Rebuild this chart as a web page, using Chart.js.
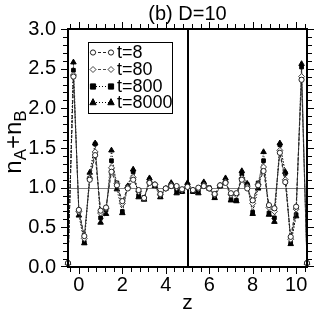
<!DOCTYPE html>
<html>
<head>
    <title>n_A+n_B profile, D=10</title>
    <script src="https://cdn.jsdelivr.net/npm/chart.js"></script>
    <style>
        body { margin: 0; background: #ffffff; }
    </style>
</head>
<body>
    <canvas id="profileChart" width="316" height="312"></canvas>
    <script>
    // positions along z
    const zValues = [
        -0.5, -0.25, 0, 0.25, 0.5, 0.75, 1, 1.25, 1.5, 1.75,
        2, 2.25, 2.5, 2.75, 3, 3.25, 3.5, 3.75, 4, 4.25,
        4.5, 4.75, 5, 5.25, 5.5, 5.75, 6, 6.25, 6.5, 6.75,
        7, 7.25, 7.5, 7.75, 8, 8.25, 8.5, 8.75, 9, 9.25,
        9.5, 9.75, 10, 10.25, 10.5
    ];
    const seriesLabels = ['t=8', 't=80', 't=800', 't=8000'];

    // n_A + n_B for each time
    const densT8 = [
        0.05, 2.40, 0.72, 0.39, 1.10, 1.41, 0.71, 0.75, 1.20, 1.03,
        0.83, 0.99, 1.10, 0.97, 0.87, 1.06, 1.04, 0.92, 0.99, 1.02,
        1.02, 0.98, 1.01, 0.97, 1.00, 1.02, 0.99, 0.92, 1.03, 1.06,
        0.93, 0.93, 1.10, 0.99, 0.84, 1.03, 1.21, 0.78, 0.74, 1.44,
        1.07, 0.38, 0.76, 2.36, 0.05
    ];
    const densT80 = [
        0.05, 2.42, 0.70, 0.36, 1.12, 1.45, 0.68, 0.74, 1.25, 1.05,
        0.80, 1.00, 1.13, 0.95, 0.87, 1.07, 1.04, 0.91, 0.99, 1.03,
        1.00, 0.97, 1.01, 0.97, 0.99, 1.03, 0.99, 0.91, 1.03, 1.07,
        0.91, 0.91, 1.12, 1.01, 0.80, 1.04, 1.26, 0.75, 0.70, 1.47,
        1.10, 0.35, 0.73, 2.40, 0.05
    ];
    const densT800 = [
        0.05, 2.48, 0.70, 0.31, 1.12, 1.55, 0.62, 0.72, 1.34, 1.06,
        0.70, 1.01, 1.20, 0.90, 0.86, 1.10, 1.03, 0.89, 0.99, 1.04,
        0.96, 0.95, 1.03, 0.95, 0.96, 1.05, 1.00, 0.88, 1.02, 1.09,
        0.85, 0.84, 1.17, 1.04, 0.69, 1.06, 1.34, 0.68, 0.62, 1.54,
        1.18, 0.30, 0.66, 2.52, 0.05
    ];
    const densT8000 = [
        0.05, 2.58, 0.65, 0.30, 1.19, 1.56, 0.56, 0.67, 1.47, 0.98,
        0.68, 1.02, 1.23, 0.88, 0.85, 1.12, 1.02, 0.88, 0.99, 1.06,
        0.93, 0.95, 1.06, 0.95, 0.93, 1.07, 0.99, 0.87, 1.02, 1.12,
        0.84, 0.83, 1.21, 1.05, 0.67, 0.99, 1.45, 0.66, 0.57, 1.56,
        1.20, 0.29, 0.64, 2.56, 0.05
    ];

    const xTickValues = [0, 2, 4, 6, 8, 10];
    const yTickValues = [0, 0.5, 1.0, 1.5, 2.0, 2.5, 3.0];
    const titleText = '(b) D=10';

    const FONT = "'Liberation Sans', Arial, sans-serif";

    function toPoints(arr) {
        return arr.map((v, i) => ({ x: zValues[i], y: v }));
    }

    const styles = [
        { color: '#222222', dash: [3, 2], point: 'circle', radius: 2.6, fill: '#ffffff' },
        { color: '#444444', dash: [3, 2], point: 'rectRot', radius: 3.0, fill: '#ffffff' },
        { color: '#000000', dash: [1, 2], point: 'rect', radius: 2.6, fill: '#000000' },
        { color: '#000000', dash: [1, 2], point: 'triangle', radius: 3.2, fill: '#000000' }
    ];
    const allSeries = [densT8, densT80, densT800, densT8000];

    const datasets = allSeries.map((arr, i) => ({
        label: seriesLabels[i],
        data: toPoints(arr),
        showLine: true,
        borderColor: styles[i].color,
        borderWidth: 1,
        borderDash: styles[i].dash,
        pointStyle: styles[i].point,
        pointRadius: styles[i].radius,
        pointBackgroundColor: styles[i].fill,
        pointBorderColor: styles[i].color,
        pointBorderWidth: 1,
        clip: false
    }));

    function drawMarker(ctx, style, x, y) {
        ctx.save();
        ctx.setLineDash([]);
        ctx.lineWidth = 1;
        ctx.strokeStyle = style.color;
        ctx.fillStyle = style.fill;
        const r = style.radius;
        ctx.beginPath();
        if (style.point === 'circle') {
            ctx.arc(x, y, r, 0, Math.PI * 2);
        } else if (style.point === 'rectRot') {
            ctx.moveTo(x, y - r); ctx.lineTo(x + r, y); ctx.lineTo(x, y + r); ctx.lineTo(x - r, y);
            ctx.closePath();
        } else if (style.point === 'rect') {
            ctx.rect(x - r, y - r, r * 2, r * 2);
        } else {
            ctx.moveTo(x, y - r * 1.2); ctx.lineTo(x + r, y + r * 0.7); ctx.lineTo(x - r, y + r * 0.7);
            ctx.closePath();
        }
        ctx.fill();
        ctx.stroke();
        ctx.restore();
    }

    // reference lines behind the data
    const refLines = {
        id: 'refLines',
        beforeDatasetsDraw(chart) {
            const ctx = chart.ctx;
            const a = chart.chartArea;
            const xs = chart.scales.x, ys = chart.scales.y;
            ctx.save();
            ctx.fillStyle = '#808080';
            const y1 = Math.round(ys.getPixelForValue(1));
            ctx.fillRect(a.left, y1, a.right - a.left, 1);
            ctx.fillStyle = '#000000';
            const x5 = Math.round(xs.getPixelForValue(5));
            ctx.fillRect(x5 - 1, a.top, 2, a.bottom - a.top);
            ctx.restore();
        }
    };

    // title, axis labels, legend
    const decorations = {
        id: 'decorations',
        afterDraw(chart) {
            const ctx = chart.ctx;
            const a = chart.chartArea;
            const xs = chart.scales.x;
            ctx.save();
            ctx.fillStyle = '#000000';
            ctx.font = '20px ' + FONT;
            ctx.textAlign = 'center';
            ctx.textBaseline = 'alphabetic';
            ctx.fillText(titleText, (a.left + a.right) / 2, 20);

            ctx.font = '21px ' + FONT;
            ctx.fillText('z', xs.getPixelForValue(5), 309);

            // y axis label with subscripts
            const parts = [['n', 24, 0], ['A', 17, 5], ['+', 24, 0], ['n', 24, 0], ['B', 17, 5]];
            let total = 0;
            parts.forEach(p => { ctx.font = p[1] + 'px ' + FONT; total += ctx.measureText(p[0]).width; });
            ctx.translate(21, 142);
            ctx.rotate(-Math.PI / 2);
            ctx.textAlign = 'left';
            let cx = -total / 2;
            parts.forEach(p => {
                ctx.font = p[1] + 'px ' + FONT;
                ctx.fillText(p[0], cx, p[2]);
                cx += ctx.measureText(p[0]).width;
            });
            ctx.restore();

            // legend
            ctx.save();
            const bx = Math.round(a.left) + 20, by = Math.round(a.top) + 13, bw = 85, bh = 72;
            ctx.fillStyle = '#000000';
            ctx.fillRect(bx, by, bw, bh);
            ctx.fillStyle = '#ffffff';
            ctx.fillRect(bx + 1, by + 1, bw - 2, bh - 2);
            ctx.font = '18px ' + FONT;
            ctx.textBaseline = 'middle';
            ctx.textAlign = 'left';
            seriesLabels.forEach((lab, i) => {
                const st = styles[i];
                const ry = Math.round(by + 10 + i * 16.8) + 0.5;
                ctx.strokeStyle = st.color;
                ctx.lineWidth = 1;
                ctx.setLineDash(st.dash);
                ctx.beginPath(); ctx.moveTo(bx + 5, ry); ctx.lineTo(bx + 23, ry); ctx.stroke();
                ctx.setLineDash([]);
                drawMarker(ctx, st, bx + 5, ry);
                drawMarker(ctx, st, bx + 23, ry);
                ctx.fillStyle = '#000000';
                ctx.fillText(lab, bx + 29, ry + 1);
            });
            ctx.restore();
        }
    };

    // plot frame with outward ticks on all four sides
    const frame = {
        id: 'frame',
        afterDraw(chart) {
            const ctx = chart.ctx;
            const a = chart.chartArea;
            const xs = chart.scales.x, ys = chart.scales.y;
            const L = Math.round(a.left), R = Math.round(a.right);
            const T = Math.round(a.top), B = Math.round(a.bottom);
            ctx.save();
            ctx.fillStyle = '#000000';
            ctx.fillRect(L - 1, T - 1, R - L + 2, 2);
            ctx.fillRect(L - 1, B - 1, R - L + 2, 2);
            ctx.fillRect(L - 1, T - 1, 2, B - T + 2);
            ctx.fillRect(R - 1, T - 1, 2, B - T + 2);
            for (let k = -1; k <= 26; k++) {
                const v = k * 0.4;
                if (v < -0.5 || v > 10.5) continue;
                const px = Math.round(xs.getPixelForValue(v));
                const len = (k % 5 === 0) ? 7 : 5;
                ctx.fillRect(px, B, 1, len);
                ctx.fillRect(px, T - len, 1, len);
            }
            for (let k = 0; k <= 30; k++) {
                const py = Math.min(Math.round(ys.getPixelForValue(k * 0.1)), B - 1);
                const len = (k % 5 === 0) ? 7 : 5;
                ctx.fillRect(L - len, py, len, 1);
                ctx.fillRect(R, py, len, 1);
            }
            ctx.restore();
        }
    };

    const ctx = document.getElementById('profileChart').getContext('2d');
    const chart = new Chart(ctx, {
        type: 'scatter',
        data: { datasets: datasets },
        options: {
            responsive: false,
            animation: false,
            devicePixelRatio: 1,
            layout: { padding: { top: 29, right: 9, left: 0, bottom: 0 } },
            plugins: {
                legend: { display: false },
                tooltip: { enabled: false },
                title: { display: false }
            },
            scales: {
                x: {
                    type: 'linear',
                    min: -0.5,
                    max: 10.5,
                    grid: { display: false, drawTicks: false, tickLength: 0 },
                    border: { display: false },
                    ticks: {
                        color: '#000000',
                        font: { size: 20, family: FONT },
                        padding: 6,
                        maxRotation: 0
                    },
                    afterBuildTicks: scale => { scale.ticks = xTickValues.map(v => ({ value: v })); },
                    afterFit: scale => { scale.height = 45; }
                },
                y: {
                    type: 'linear',
                    min: 0,
                    max: 3,
                    grid: { display: false, drawTicks: false, tickLength: 0 },
                    border: { display: false },
                    ticks: {
                        color: '#000000',
                        font: { size: 20, family: FONT },
                        padding: 12,
                        callback: v => v.toFixed(1)
                    },
                    afterBuildTicks: scale => { scale.ticks = yTickValues.map(v => ({ value: v })); },
                    afterFit: scale => { scale.width = 68; }
                }
            }
        },
        plugins: [refLines, decorations, frame]
    });
    </script>
</body>
</html>
